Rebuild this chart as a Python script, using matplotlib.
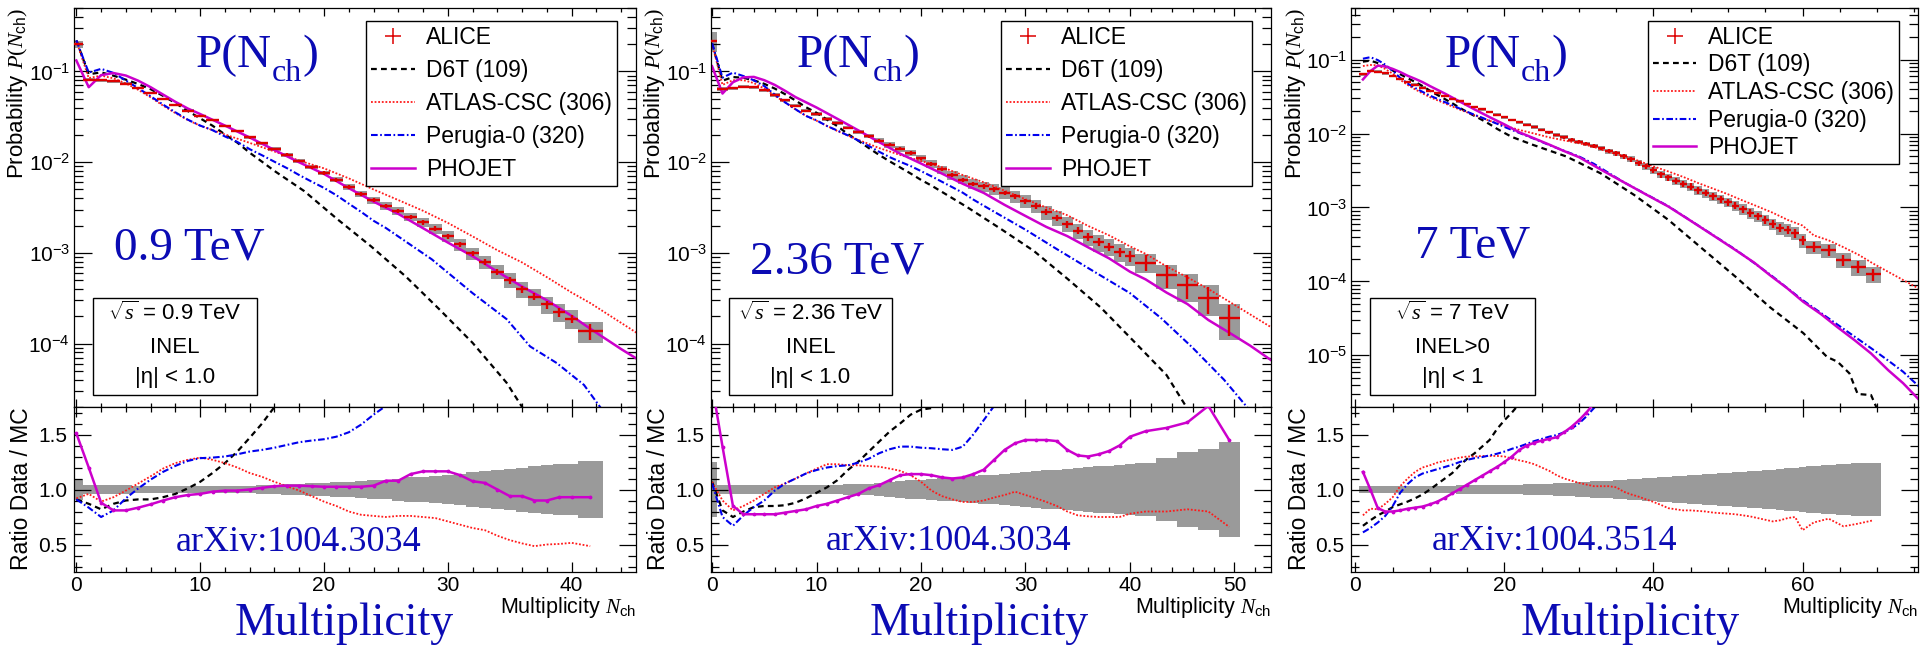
import numpy as np
import matplotlib
matplotlib.use('Agg')
import matplotlib.pyplot as plt
from matplotlib.lines import Line2D
from matplotlib.patches import Rectangle
from matplotlib.ticker import LogLocator, MultipleLocator, FuncFormatter, FormatStrFormatter, NullFormatter

plt.rcParams['font.family'] = ['Liberation Sans', 'DejaVu Sans']
plt.rcParams['mathtext.fontset'] = 'custom'
plt.rcParams['mathtext.rm'] = 'Liberation Serif'
plt.rcParams['mathtext.it'] = 'Liberation Serif:italic'
plt.rcParams['mathtext.bf'] = 'Liberation Serif:bold'
plt.rcParams['mathtext.sf'] = 'Liberation Sans'

# ---------------- Panel 1 : 0.9 TeV ----------------
N1 = [0, 1, 2, 3, 4, 5, 6, 7, 8, 9, 10, 11, 12, 13, 14, 15, 16, 17, 18, 19, 20,
      21, 22, 23, 24, 25, 26, 27, 28, 29, 30, 31, 32, 33, 34, 35, 36, 37, 38, 39, 40, 41.5]
XE1 = [0.5] * 41 + [1.0]
P1 = [0.200, 0.081, 0.080, 0.078, 0.073, 0.066, 0.058, 0.050, 0.043, 0.037, 0.0325,
      0.029, 0.025, 0.022, 0.0187, 0.0162, 0.0140, 0.0121, 0.0103, 0.0088, 0.0076,
      0.0064, 0.0053, 0.0045, 0.0038, 0.0033, 0.0029, 0.0025, 0.00218, 0.00184, 0.00152,
      0.00124, 0.00099, 0.00079, 0.00062, 0.00050, 0.00040, 0.00033, 0.00027, 0.000222, 0.000188,
      0.000136]
SYS1 = [0.093, 0.04, 0.04, 0.04, 0.04, 0.03, 0.03, 0.03, 0.03, 0.03, 0.03,
        0.03, 0.03, 0.03, 0.033, 0.037, 0.042, 0.047, 0.052, 0.057, 0.062,
        0.066, 0.071, 0.076, 0.083, 0.09, 0.10, 0.11, 0.117, 0.125, 0.135,
        0.145, 0.155, 0.165, 0.178, 0.19, 0.20, 0.21, 0.22, 0.23, 0.235, 0.26]
STAT1 = [0.01, 0.01, 0.01, 0.01, 0.01, 0.012, 0.014, 0.016, 0.018, 0.02, 0.022,
         0.024, 0.026, 0.028, 0.03, 0.032, 0.034, 0.036, 0.038, 0.04, 0.044,
         0.046, 0.048, 0.05, 0.052, 0.054, 0.056, 0.058, 0.06, 0.062, 0.065,
         0.068, 0.071, 0.075, 0.08, 0.085, 0.09, 0.095, 0.10, 0.105, 0.11, 0.2]
D6T1_N = [0, 1, 2, 3, 4, 5, 6, 7, 8, 9, 10, 11, 12, 13, 14, 15, 16, 18.4, 21.1, 23.8, 26.6, 29.3, 32.0, 34.75, 36.0, 37.5]
D6T1_P = [0.22, 0.093, 0.0976, 0.0897, 0.0811, 0.0725, 0.0637, 0.0538, 0.0448, 0.0366, 0.0304, 0.0252,
          0.0202, 0.0164, 0.0127, 0.0101, 0.008, 0.0048, 0.00234, 0.00118, 0.00055, 0.00024, 0.000102,
          3.7e-5, 2.0e-5, 9e-6]
ATL1_N = [0, 1, 2, 3, 4, 5, 6, 7, 8, 9, 10, 12, 14, 16, 18, 20, 22, 24, 26, 28, 30, 32, 34, 36, 38, 40, 41.5, 45.5]
ATL1_P = [0.217, 0.0844, 0.0899, 0.0839, 0.0737, 0.0626, 0.0518, 0.042, 0.0347, 0.0291, 0.0252, 0.0202,
          0.0163, 0.0131, 0.0104, 0.00854, 0.00663, 0.005, 0.00382, 0.00291, 0.00214, 0.00152, 0.00107,
          0.000784, 0.00054, 0.000365, 0.00028, 0.000125]
PER1_N = [0, 1, 2, 3, 4, 5, 6, 7, 8, 9, 10, 11, 12, 13, 14, 15, 16, 17, 18, 19, 20, 21, 22, 23, 24, 25,
          28.7, 32.0, 34.75, 36.65, 38.8, 41.0, 42.3, 44]
PER1_P = [0.22, 0.097, 0.1067, 0.0963, 0.0793, 0.0653, 0.0532, 0.0431, 0.0354, 0.0294, 0.0253, 0.0225,
          0.0192, 0.0167, 0.0139, 0.0119, 0.0101, 0.0086, 0.0072, 0.0061, 0.0052, 0.00432, 0.00349,
          0.00283, 0.00226, 0.00188, 0.00085, 0.00036, 0.000186, 9.3e-5, 6.1e-5, 3.5e-5, 2.0e-5, 1.0e-5]
PHO1_N = [0, 1, 2, 3, 4, 5, 6, 7, 8, 9, 10, 12, 14, 16, 18, 20, 22, 24, 26, 28, 30, 32, 34, 36, 38, 40,
          41.5, 44, 46]
PHO1_P = [0.132, 0.067, 0.091, 0.096, 0.090, 0.079, 0.067, 0.0556, 0.0462, 0.039, 0.0339, 0.0253, 0.0187,
          0.0136, 0.00995, 0.00741, 0.00517, 0.00367, 0.00269, 0.00187, 0.0013, 0.00092, 0.00062,
          0.000425, 0.0003, 0.000202, 0.000146, 8.7e-5, 5.9e-5]
R1_D6T = [0.91, 0.87, 0.82, 0.87, 0.90, 0.91, 0.91, 0.93, 0.96, 1.01, 1.07, 1.15, 1.24, 1.345, 1.47, 1.60, 1.75, 1.92]
R1_ATL = [0.92, 0.96, 0.89, 0.93, 0.99, 1.055, 1.12, 1.19, 1.24, 1.27, 1.29,
          1.27, 1.24, 1.20, 1.15, 1.115, 1.07, 1.03, 0.99, 0.94, 0.89,
          0.85, 0.80, 0.77, 0.76, 0.75, 0.76, 0.76, 0.75, 0.74, 0.71,
          0.68, 0.65, 0.63, 0.58, 0.54, 0.51, 0.485, 0.50, 0.505, 0.515, 0.485]
R1_PER = [0.91, 0.835, 0.75, 0.81, 0.92, 1.01, 1.09, 1.16, 1.215, 1.26, 1.285, 1.29, 1.30, 1.32, 1.345,
          1.36, 1.38, 1.405, 1.43, 1.445, 1.457, 1.48, 1.52, 1.59, 1.68, 1.76]
R1_PHO = [1.51, 1.20, 0.88, 0.81, 0.81, 0.835, 0.865, 0.90, 0.93, 0.95, 0.96,
          0.98, 0.99, 0.99, 1.00, 1.015, 1.03, 1.035, 1.035, 1.03, 1.025,
          1.025, 1.025, 1.025, 1.035, 1.08, 1.08, 1.14, 1.165, 1.165, 1.165,
          1.13, 1.075, 1.06, 1.00, 0.94, 0.94, 0.90, 0.90, 0.93, 0.93, 0.93]

# ---------------- Panel 2 : 2.36 TeV ----------------
N2 = [0, 1, 2, 3, 4, 5, 6, 7, 8, 9, 10, 11, 12, 13, 14, 15, 16, 17, 18, 19, 20,
      21, 22, 23, 24, 25, 26, 27, 28, 29, 30, 31, 32, 33, 34, 35, 36, 37, 38, 39, 40,
      41.5, 43.5, 45.5, 47.5, 49.5]
XE2 = [0.5] * 41 + [1.0] * 5
P2 = [0.216, 0.064, 0.065, 0.068, 0.067, 0.062, 0.055, 0.048, 0.042, 0.037, 0.034,
      0.030, 0.027, 0.024, 0.0215, 0.0193, 0.0173, 0.0155, 0.0140, 0.0126, 0.0110,
      0.0096, 0.0083, 0.0072, 0.0064, 0.0058, 0.0054, 0.0050, 0.0046, 0.0042, 0.0037,
      0.0033, 0.0028, 0.00244, 0.00208, 0.00176, 0.0015, 0.00131, 0.00117, 0.00102, 0.00092,
      0.00078, 0.00057, 0.00044, 0.00032, 0.000192]
SYS2 = [0.25, 0.04, 0.04, 0.04, 0.04, 0.04, 0.04, 0.04, 0.04, 0.04, 0.04,
        0.042, 0.044, 0.046, 0.048, 0.05, 0.058, 0.066, 0.074, 0.082, 0.09,
        0.096, 0.102, 0.108, 0.114, 0.12, 0.128, 0.136, 0.144, 0.152, 0.16,
        0.167, 0.174, 0.181, 0.188, 0.195, 0.203, 0.21, 0.217, 0.224, 0.23,
        0.24, 0.29, 0.34, 0.365, 0.435]
STAT2 = [0.01, 0.01, 0.01, 0.01, 0.01, 0.012, 0.014, 0.016, 0.018, 0.02, 0.022,
         0.024, 0.026, 0.028, 0.03, 0.032, 0.034, 0.036, 0.038, 0.04, 0.042,
         0.044, 0.046, 0.048, 0.05, 0.052, 0.054, 0.056, 0.058, 0.06, 0.065,
         0.07, 0.075, 0.08, 0.085, 0.09, 0.095, 0.10, 0.11, 0.12, 0.13,
         0.2, 0.28, 0.3, 0.33, 0.37]
D6T2_N = [0, 1, 2, 3, 4, 5, 6, 7, 8, 9, 10, 11, 12, 13, 14, 15, 16, 17, 18, 19, 20, 21,
          24.4, 27.6, 30.8, 34.0, 37.2, 40.3, 43.5, 45.4, 47]
D6T2_P = [0.202, 0.079, 0.0867, 0.085, 0.0798, 0.0729, 0.0647, 0.056, 0.0477, 0.0402, 0.035, 0.0294,
          0.0249, 0.0204, 0.0172, 0.0143, 0.012, 0.0102, 0.00875, 0.0075, 0.00637, 0.00552,
          0.0032, 0.00185, 0.00105, 0.00052, 0.00025, 0.000108, 4.5e-5, 2.0e-5, 1.0e-5]
ATL2_N = [0, 1, 2, 3, 4, 5, 6, 7, 8, 9, 10, 12, 14, 16, 18, 20, 22, 24, 26, 28, 30, 32, 34, 36, 38, 40,
          41.5, 43.5, 45.5, 47.5, 49.5, 54]
ATL2_P = [0.202, 0.071, 0.080, 0.080, 0.0744, 0.0646, 0.054, 0.0455, 0.038, 0.0323, 0.0286, 0.022,
          0.0176, 0.0143, 0.012, 0.0103, 0.0088, 0.0072, 0.006, 0.00484, 0.0039, 0.00316, 0.0026,
          0.00198, 0.00156, 0.00118, 0.000975, 0.00071, 0.000537, 0.0004, 0.00029, 0.00014]
PER2_N = [0, 1, 2, 3, 4, 5, 6, 7, 8, 9, 10, 11, 12, 13, 14, 15, 16, 17, 18, 19, 20, 21, 22, 23, 24, 25,
          26, 27, 30, 33, 36, 40, 43, 46, 49, 51.2, 53]
PER2_P = [0.205, 0.0853, 0.097, 0.0889, 0.0798, 0.0689, 0.0556, 0.0455, 0.0382, 0.0323, 0.0289, 0.025,
          0.0223, 0.0197, 0.0173, 0.0151, 0.013, 0.01135, 0.0101, 0.00906, 0.00797, 0.00698, 0.00608,
          0.00529, 0.0046, 0.00387, 0.00331, 0.00284, 0.0018, 0.0011, 0.00068, 0.00036, 0.00019, 9e-5,
          4e-5, 2.0e-5, 1.0e-5]
PHO2_N = [0, 1, 2, 3, 4, 5, 6, 7, 8, 10, 12, 14, 16, 18, 20, 22, 24, 26, 28, 30, 32, 34, 36, 38, 40,
          41.5, 43.5, 45.5, 47.5, 49.5, 51.5, 54]
PHO2_P = [0.114, 0.057, 0.076, 0.086, 0.087, 0.080, 0.071, 0.061, 0.052, 0.040, 0.030, 0.0224, 0.0166,
          0.0124, 0.00965, 0.00748, 0.00577, 0.00458, 0.00338, 0.00255, 0.00193, 0.00153, 0.00115,
          0.00087, 0.00062, 0.00051, 0.000365, 0.000273, 0.000182, 0.000132, 9.5e-5, 6.0e-5]
R2_D6T = [1.07, 0.81, 0.75, 0.80, 0.84, 0.85, 0.85, 0.857, 0.88, 0.92, 0.97, 1.02, 1.085, 1.177, 1.253,
          1.345, 1.436, 1.527, 1.60, 1.68, 1.726, 1.74, 1.78, 1.85]
R2_ATL = [1.07, 0.90, 0.81, 0.85, 0.90, 0.96, 1.02, 1.055, 1.10, 1.146, 1.19,
          1.23, 1.23, 1.22, 1.22, 1.213, 1.207, 1.19, 1.17, 1.13, 1.07,
          0.99, 0.94, 0.91, 0.887, 0.887, 0.90, 0.927, 0.95, 0.98, 0.95,
          0.92, 0.887, 0.85, 0.80, 0.765, 0.756, 0.75, 0.75, 0.75, 0.78,
          0.80, 0.80, 0.82, 0.80, 0.66]
R2_PER = [1.055, 0.75, 0.67, 0.765, 0.84, 0.90, 0.99, 1.055, 1.10, 1.146, 1.177,
          1.20, 1.213, 1.22, 1.244, 1.28, 1.33, 1.366, 1.39, 1.39, 1.38,
          1.375, 1.366, 1.36, 1.39, 1.50, 1.63, 1.76]
R2_PHO = [1.95, 1.39, 0.85, 0.775, 0.775, 0.775, 0.775, 0.79, 0.805, 0.82, 0.85,
          0.87, 0.90, 0.93, 0.96, 1.01, 1.04, 1.085, 1.13, 1.14, 1.14,
          1.13, 1.11, 1.10, 1.11, 1.14, 1.18, 1.27, 1.36, 1.42, 1.45,
          1.45, 1.45, 1.44, 1.36, 1.31, 1.30, 1.32, 1.35, 1.40, 1.48,
          1.53, 1.56, 1.61, 1.76, 1.45]

# ---------------- Panel 3 : 7 TeV ----------------
N3 = [1, 2, 3, 4, 5, 6, 7, 8, 9, 10, 11, 12, 13, 14, 15, 16, 17, 18, 19, 20,
      21, 22, 23, 24, 25, 26, 27, 28, 29, 30, 31, 32, 33, 34, 35, 36, 37, 38, 39, 40,
      41, 42, 43, 44, 45, 46, 47, 48, 49, 50, 51, 52, 53, 54, 55, 56, 57, 58, 59, 60,
      61.5, 63.5, 65.5, 67.5, 69.5]
XE3 = [0.5] * 60 + [1.0] * 5
P3 = [0.063, 0.070, 0.069, 0.065, 0.060, 0.055, 0.050, 0.046, 0.042, 0.038,
      0.035, 0.0322, 0.0296, 0.0272, 0.025, 0.023, 0.0212, 0.0195, 0.018, 0.0166,
      0.0153, 0.0142, 0.0132, 0.0123, 0.0113, 0.0104, 0.0096, 0.0089, 0.0083, 0.0078,
      0.0073, 0.0068, 0.0063, 0.0058, 0.0054, 0.0049, 0.0045, 0.0040, 0.0036, 0.0032,
      0.0028, 0.00255, 0.00228, 0.0021, 0.00192, 0.00172, 0.00158, 0.00142, 0.0013, 0.00118,
      0.00106, 0.00095, 0.00085, 0.00076, 0.00068, 0.0006, 0.00053, 0.0005, 0.00045, 0.00036,
      0.000295, 0.000266, 0.000195, 0.000158, 0.000125]
SYS3 = [0.035, 0.035, 0.035, 0.035, 0.035, 0.035, 0.035, 0.035, 0.035, 0.035,
        0.035, 0.036, 0.036, 0.037, 0.037, 0.038, 0.038, 0.039, 0.04, 0.04,
        0.042, 0.044, 0.046, 0.048, 0.05, 0.053, 0.056, 0.059, 0.062, 0.065,
        0.069, 0.073, 0.077, 0.081, 0.085, 0.089, 0.093, 0.097, 0.101, 0.105,
        0.11, 0.114, 0.119, 0.123, 0.128, 0.132, 0.137, 0.141, 0.146, 0.15,
        0.155, 0.16, 0.166, 0.171, 0.176, 0.181, 0.187, 0.192, 0.198, 0.203,
        0.21, 0.22, 0.23, 0.24, 0.245]
STAT3 = [0.008, 0.008, 0.008, 0.008, 0.008, 0.009, 0.01, 0.011, 0.012, 0.013,
         0.014, 0.015, 0.016, 0.017, 0.018, 0.019, 0.02, 0.022, 0.024, 0.026,
         0.028, 0.03, 0.032, 0.034, 0.036, 0.038, 0.04, 0.043, 0.046, 0.05,
         0.053, 0.056, 0.06, 0.064, 0.068, 0.072, 0.076, 0.08, 0.085, 0.09,
         0.092, 0.094, 0.096, 0.098, 0.10, 0.102, 0.104, 0.106, 0.108, 0.11,
         0.112, 0.114, 0.116, 0.118, 0.12, 0.122, 0.124, 0.126, 0.128, 0.13,
         0.15, 0.16, 0.17, 0.18, 0.19]
D6T3_N = [1, 2, 3, 4, 5, 6, 7, 8, 9, 10, 11, 12, 13, 14, 15, 16, 17, 18, 19, 20, 21,
          23.8, 28.3, 32.9, 37.4, 42, 46.5, 51, 55.6, 60.1, 63.3, 64.7, 66.3, 67.4, 69.2, 69.9, 71]
D6T3_P = [0.094, 0.097, 0.090, 0.081, 0.0714, 0.0636, 0.0562, 0.050, 0.044, 0.038, 0.0333, 0.0293,
          0.0257, 0.0223, 0.0195, 0.0173, 0.0153, 0.0134, 0.0116, 0.0102, 0.009,
          0.00705, 0.0049, 0.0029, 0.00148, 0.00068, 0.00028, 0.000116, 4.5e-5, 2.0e-5, 9.5e-6,
          8.2e-6, 5.7e-6, 3.0e-6, 2.9e-6, 2.0e-6, 1.2e-6]
ATL3_N = [1, 2, 3, 4, 5, 6, 7, 8, 9, 10, 12, 14, 16, 18, 20, 22, 24, 26, 28, 30, 32, 34, 36, 38, 40,
          42, 44, 46, 48, 50, 52, 54, 56, 58, 60, 61.5, 63.5, 65.5, 67.5, 69.5, 76]
ATL3_P = [0.082, 0.0847, 0.0841, 0.0747, 0.0645, 0.0534, 0.0455, 0.0397, 0.035, 0.0311, 0.0256, 0.0211,
          0.0177, 0.0149, 0.0128, 0.0112, 0.01, 0.0089, 0.0081, 0.0074, 0.0066, 0.0056, 0.005, 0.00428,
          0.0036, 0.00307, 0.00259, 0.00214, 0.0018, 0.00151, 0.00124, 0.00103, 0.00085, 0.00068,
          0.00057, 0.00042, 0.00036, 0.00029, 0.00023, 0.000174, 7.6e-5]
PER3_N = [1, 2, 3, 4, 5, 6, 7, 8, 9, 10, 11, 12, 13, 14, 15, 16, 17, 18, 19, 20, 22, 24, 26, 28, 30, 32,
          36, 42, 51, 55.6, 60, 64.7, 69.2, 71.5, 73.5, 76]
PER3_P = [0.103, 0.108, 0.0986, 0.0855, 0.0706, 0.0567, 0.0476, 0.0414, 0.0367, 0.0326, 0.0295, 0.0267,
          0.0242, 0.0218, 0.0197, 0.0179, 0.0164, 0.0149, 0.0136, 0.0123, 0.0102, 0.0085, 0.0070,
          0.00585, 0.0049, 0.0039, 0.0022, 0.00104, 0.00027, 0.000125, 5.6e-5, 2.6e-5, 1.25e-5,
          8.5e-6, 6e-6, 3.5e-6]
PHO3_N = [1, 2, 3, 4, 5, 6, 7, 8, 9, 10, 12, 14, 16, 18, 20, 22, 24, 26, 28, 30, 33, 36, 39, 42, 45, 48,
          51, 53.5, 55.6, 58, 60.1, 62.5, 64.7, 67, 69.2, 71.5, 73.5, 76]
PHO3_P = [0.054, 0.070, 0.083, 0.081, 0.075, 0.068, 0.0606, 0.0551, 0.0497, 0.0439, 0.0348, 0.0271,
          0.0212, 0.0167, 0.0133, 0.0104, 0.0086, 0.0071, 0.0058, 0.0048, 0.00323, 0.0022, 0.0015,
          0.00103, 0.00066, 0.00042, 0.000266, 0.00018, 0.000122, 8.0e-5, 5.3e-5, 3.6e-5, 2.4e-5,
          1.6e-5, 1.06e-5, 6.3e-6, 4.2e-6, 2.3e-6]
R3_D6T = [0.67, 0.72, 0.765, 0.80, 0.84, 0.865, 0.89, 0.92, 0.955, 1.0, 1.05, 1.10, 1.15, 1.22, 1.28,
          1.33, 1.39, 1.45, 1.55, 1.63, 1.70, 1.78]
R3_ATL = [0.765, 0.826, 0.82, 0.87, 0.93, 1.03, 1.10, 1.16, 1.20, 1.22,
          1.245, 1.26, 1.275, 1.29, 1.30, 1.30, 1.305, 1.305, 1.305, 1.30,
          1.28, 1.265, 1.25, 1.23, 1.20, 1.17, 1.13, 1.10, 1.08, 1.06,
          1.045, 1.03, 1.03, 1.03, 1.02, 0.98, 0.955, 0.935, 0.91, 0.887,
          0.86, 0.83, 0.82, 0.81, 0.81, 0.805, 0.80, 0.79, 0.785, 0.78,
          0.775, 0.765, 0.755, 0.74, 0.725, 0.71, 0.72, 0.74, 0.75, 0.63,
          0.70, 0.735, 0.665, 0.69, 0.72]
R3_PER = [0.61, 0.65, 0.70, 0.76, 0.85, 0.97, 1.05, 1.11, 1.145, 1.165, 1.185, 1.205, 1.225, 1.25, 1.27,
          1.285, 1.295, 1.31, 1.325, 1.345, 1.37, 1.39, 1.415, 1.44, 1.46, 1.48, 1.495, 1.52, 1.555,
          1.60, 1.665, 1.74, 1.81]
R3_PHO = [1.16, 1.0, 0.83, 0.80, 0.80, 0.81, 0.825, 0.835, 0.845, 0.865, 0.89, 0.925, 0.965, 1.005,
          1.045, 1.085, 1.125, 1.165, 1.205, 1.25, 1.30, 1.36, 1.40, 1.425, 1.445, 1.46, 1.475, 1.52,
          1.57, 1.63, 1.70, 1.78]

LEGEND_LABELS = ['ALICE', 'D6T (109)', 'ATLAS-CSC (306)', 'Perugia-0 (320)', 'PHOJET']
ENERGY_LABELS = ['0.9 TeV', '2.36 TeV', '7 TeV']
BOX_LINES = [[r'$\sqrt{s}$ = 0.9 TeV', 'INEL', '|η| < 1.0'],
             [r'$\sqrt{s}$ = 2.36 TeV', 'INEL', '|η| < 1.0'],
             [r'$\sqrt{s}$ = 7 TeV', 'INEL>0', '|η| < 1']]
ARXIV = ['arXiv:1004.3034', 'arXiv:1004.3034', 'arXiv:1004.3514']

# ---------------- styling ----------------
RED = '#dd0000'
ATL_C = '#ff1a1a'
BLUE = '#0000ee'
MAG = '#cc00cc'
GRAY = '#9a9a9a'
TXTBLUE = '#0b0bb4'

W, H = 1923, 648
fig = plt.figure(figsize=(W / 100, H / 100), dpi=100)
fig.patch.set_facecolor('white')
renderer = fig.canvas.get_renderer()

TOP = (8, 407)
RAT = (407, 572)

layout = [
    dict(px=(73.5, 636), xlim=(-0.23, 45.2), ylim=(2e-5, 0.5), xmaj=10, xmin=2,
         pn=(196, 67), en=(114, 260), box=(92.6, 298, 257, 395), arx=(176, 551), mult=344.5,
         lspace=0.44),
    dict(px=(710.5, 1271), xlim=(-0.15, 53.5), ylim=(2e-5, 0.5), xmaj=10, xmin=2,
         pn=(797, 67), en=(750, 273), box=(729, 298, 892, 395), arx=(826, 550), mult=979.5,
         lspace=0.44),
    dict(px=(1351, 1918), xlim=(-0.6, 75.5), ylim=(2e-6, 0.5), xmaj=20, xmin=5,
         pn=(1445, 67), en=(1415, 258), box=(1370, 298, 1535, 395), arx=(1432, 550), mult=1630,
         lspace=0.2),
]
series = [
    dict(N=N1, P=P1, XE=XE1, SYS=SYS1, STAT=STAT1,
         mc=[(D6T1_N, D6T1_P), (ATL1_N, ATL1_P), (PER1_N, PER1_P), (PHO1_N, PHO1_P)],
         rat=[R1_D6T, R1_ATL, R1_PER, R1_PHO]),
    dict(N=N2, P=P2, XE=XE2, SYS=SYS2, STAT=STAT2,
         mc=[(D6T2_N, D6T2_P), (ATL2_N, ATL2_P), (PER2_N, PER2_P), (PHO2_N, PHO2_P)],
         rat=[R2_D6T, R2_ATL, R2_PER, R2_PHO]),
    dict(N=N3, P=P3, XE=XE3, SYS=SYS3, STAT=STAT3,
         mc=[(D6T3_N, D6T3_P), (ATL3_N, ATL3_P), (PER3_N, PER3_P), (PHO3_N, PHO3_P)],
         rat=[R3_D6T, R3_ATL, R3_PER, R3_PHO]),
]
mc_styles = [
    dict(color='black', lw=1.6, dashes=(2.6, 1.9)),
    dict(color=ATL_C, lw=1.3, linestyle=(0, (1, 1))),
    dict(color=BLUE, lw=1.5, linestyle=(0, (3.2, 1.2, 0.8, 1.2))),
    dict(color=MAG, lw=1.8, linestyle='-'),
]


def fxp(x):
    return x / W


def fyp(y):
    return 1 - y / H


def style_axes(ax, xlen, ylen):
    ax.tick_params(which='both', direction='in', top=True, right=True, width=0.9,
                   labelsize=15, colors='black')
    ax.tick_params(axis='x', which='major', length=xlen[0])
    ax.tick_params(axis='x', which='minor', length=xlen[1])
    ax.tick_params(axis='y', which='major', length=ylen[0])
    ax.tick_params(axis='y', which='minor', length=ylen[1])
    for s in ax.spines.values():
        s.set_linewidth(0.9)


def pow_fmt(v, pos):
    if v <= 0:
        return ''
    e = int(round(np.log10(v)))
    return r'$\mathsf{10^{%d}}$' % e


def big_pnch(x, y):
    """Draw 'P(N' + lowered subscript 'ch' + ')' in the blue serif style."""
    kw = dict(color=TXTBLUE, family='Liberation Serif', ha='left', va='baseline')
    t1 = fig.text(fxp(x), fyp(y), 'P(N', fontsize=34, **kw)
    bb1 = t1.get_window_extent(renderer)
    t2 = fig.text(bb1.x1 / W, fyp(y + 14), 'ch', fontsize=23, **kw)
    bb2 = t2.get_window_extent(renderer)
    fig.text(bb2.x1 / W, fyp(y), ')', fontsize=34, **kw)


for i, (lay, s) in enumerate(zip(layout, series)):
    x0, x1 = lay['px']
    axt = fig.add_axes([fxp(x0), fyp(TOP[1]), (x1 - x0) / W, (TOP[1] - TOP[0]) / H])
    axr = fig.add_axes([fxp(x0), fyp(RAT[1]), (x1 - x0) / W, (RAT[1] - RAT[0]) / H])

    N = np.array(s['N'], float)
    P = np.array(s['P'], float)
    XE = np.array(s['XE'], float)
    SYS = np.array(s['SYS'], float)
    STAT = np.array(s['STAT'], float)

    # --- top panel ---
    axt.set_yscale('log')
    axt.bar(N, P * 2 * SYS, bottom=P * (1 - SYS), width=2 * XE, color=GRAY, linewidth=0, zorder=1)
    for (mn, mp), st in zip(s['mc'], mc_styles):
        axt.plot(mn, mp, zorder=2, **st)
    axt.errorbar(N, P, xerr=XE, yerr=P * STAT, fmt='none', ecolor=RED, elinewidth=1.7,
                 capsize=0, zorder=3)
    axt.set_xlim(*lay['xlim'])
    axt.set_ylim(*lay['ylim'])
    axt.xaxis.set_major_locator(MultipleLocator(lay['xmaj']))
    axt.xaxis.set_minor_locator(MultipleLocator(lay['xmin']))
    axt.yaxis.set_major_locator(LogLocator(base=10, numticks=20))
    axt.yaxis.set_minor_locator(LogLocator(base=10, subs=np.arange(2, 10), numticks=40))
    axt.yaxis.set_major_formatter(FuncFormatter(pow_fmt))
    axt.yaxis.set_minor_formatter(NullFormatter())
    style_axes(axt, (5.8, 2.9), (13, 6.5))
    axt.tick_params(labelbottom=False)
    axt.tick_params(axis='y', pad=2.5)

    handles = [Line2D([], [], color=RED, marker='+', linestyle='none', markersize=12, mew=1.1)]
    for st in mc_styles:
        handles.append(Line2D([], [], **st))
    leg = axt.legend(handles, LEGEND_LABELS, loc='upper right', bbox_to_anchor=(0.966, 0.968),
                     fontsize=16.5, frameon=True, fancybox=False, edgecolor='black', framealpha=1,
                     handlelength=1.9, handletextpad=0.5, labelspacing=lay['lspace'], borderpad=0.22,
                     borderaxespad=0)
    leg.get_frame().set_linewidth(1.0)
    leg.set_zorder(5)

    # --- ratio panel ---
    axr.bar(N, 2 * SYS, bottom=1 - SYS, width=2 * XE, color=GRAY, linewidth=0, zorder=1)
    for R, st in zip(s['rat'], mc_styles):
        kw = dict(st)
        if st['color'] == MAG:
            axr.plot(N[:len(R)], R, marker='.', markersize=3.5, zorder=3, **kw)
        else:
            axr.plot(N[:len(R)], R, zorder=2, **kw)
    axr.set_xlim(*lay['xlim'])
    axr.set_ylim(0.25, 1.75)
    axr.xaxis.set_major_locator(MultipleLocator(lay['xmaj']))
    axr.xaxis.set_minor_locator(MultipleLocator(lay['xmin']))
    axr.yaxis.set_major_locator(MultipleLocator(0.5))
    axr.yaxis.set_minor_locator(MultipleLocator(0.1))
    axr.yaxis.set_major_formatter(FormatStrFormatter('%.1f'))
    style_axes(axr, (7.2, 3.6), (12, 6))
    axr.tick_params(axis='y', pad=4.5)
    axr.tick_params(axis='x', pad=3)

    # --- texts ---
    big_pnch(*lay['pn'])
    fig.text(fxp(lay['en'][0]), fyp(lay['en'][1]), ENERGY_LABELS[i], color=TXTBLUE,
             fontsize=34, family='Liberation Serif', ha='left', va='baseline')
    bx0, by0, bx1, by1 = lay['box']
    fig.add_artist(Rectangle((fxp(bx0), fyp(by1)), (bx1 - bx0) / W, (by1 - by0) / H,
                             transform=fig.transFigure, facecolor='white', edgecolor='black',
                             linewidth=1.0, zorder=4))
    cx = (bx0 + bx1) / 2
    for txt, yy in zip(BOX_LINES[i], (313, 347, 378)):
        fig.text(fxp(cx), fyp(yy), txt, fontsize=16, ha='center', va='center', zorder=5)
    fig.text(fxp(lay['arx'][0]), fyp(lay['arx'][1]), ARXIV[i], color=TXTBLUE, fontsize=26,
             family='Liberation Serif', ha='left', va='baseline', zorder=6)
    fig.text(fxp(lay['mult']), fyp(635), 'Multiplicity', color=TXTBLUE, fontsize=33,
             family='Liberation Serif', ha='center', va='baseline')
    fig.text(fxp(x1), fyp(613), r'Multiplicity $N_{\mathsf{ch}}$', fontsize=15.5,
             ha='right', va='baseline')
    # axis titles placed left of the tick labels (ROOT style, title at the top end)
    fig.text(fxp(x0 - 56), fyp(TOP[0]), r'Probability $P(N_{\mathsf{ch}})$', fontsize=16,
             rotation=90, ha='center', va='top')
    fig.text(fxp(x0 - 52), fyp(489), 'Ratio Data / MC', fontsize=16.5,
             rotation=90, ha='center', va='center')

fig.savefig('out.png', dpi=100, facecolor='white')
